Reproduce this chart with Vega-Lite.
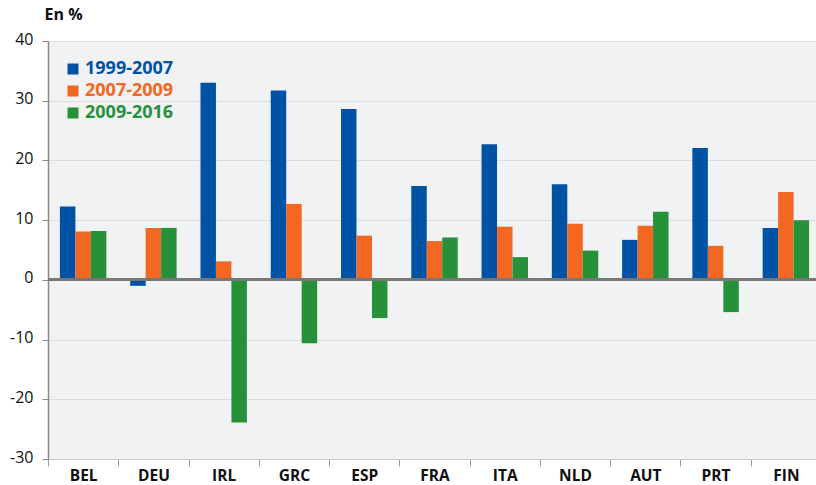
{
  "$schema": "https://vega.github.io/schema/vega-lite/v6.json",
  "width": 773,
  "height": 418,
  "autosize": {"type": "none"},
  "padding": {"left": 48, "top": 41, "right": 0, "bottom": 26},
  "background": "white",
  "config": {
    "view": {"fill": "#f1f2f4", "stroke": null},
    "font": "Open Sans"
  },
  "data": {
    "values": [
      {"country": "BEL", "period": "1999-2007", "value": 12.3},
      {"country": "BEL", "period": "2007-2009", "value": 8.1},
      {"country": "BEL", "period": "2009-2016", "value": 8.2},
      {"country": "DEU", "period": "1999-2007", "value": -1.0},
      {"country": "DEU", "period": "2007-2009", "value": 8.7},
      {"country": "DEU", "period": "2009-2016", "value": 8.7},
      {"country": "IRL", "period": "1999-2007", "value": 33.0},
      {"country": "IRL", "period": "2007-2009", "value": 3.1},
      {"country": "IRL", "period": "2009-2016", "value": -23.9},
      {"country": "GRC", "period": "1999-2007", "value": 31.7},
      {"country": "GRC", "period": "2007-2009", "value": 12.7},
      {"country": "GRC", "period": "2009-2016", "value": -10.6},
      {"country": "ESP", "period": "1999-2007", "value": 28.6},
      {"country": "ESP", "period": "2007-2009", "value": 7.4},
      {"country": "ESP", "period": "2009-2016", "value": -6.4},
      {"country": "FRA", "period": "1999-2007", "value": 15.7},
      {"country": "FRA", "period": "2007-2009", "value": 6.5},
      {"country": "FRA", "period": "2009-2016", "value": 7.1},
      {"country": "ITA", "period": "1999-2007", "value": 22.7},
      {"country": "ITA", "period": "2007-2009", "value": 8.9},
      {"country": "ITA", "period": "2009-2016", "value": 3.8},
      {"country": "NLD", "period": "1999-2007", "value": 16.0},
      {"country": "NLD", "period": "2007-2009", "value": 9.4},
      {"country": "NLD", "period": "2009-2016", "value": 4.9},
      {"country": "AUT", "period": "1999-2007", "value": 6.7},
      {"country": "AUT", "period": "2007-2009", "value": 9.05},
      {"country": "AUT", "period": "2009-2016", "value": 11.4},
      {"country": "PRT", "period": "1999-2007", "value": 22.1},
      {"country": "PRT", "period": "2007-2009", "value": 5.7},
      {"country": "PRT", "period": "2009-2016", "value": -5.4},
      {"country": "FIN", "period": "1999-2007", "value": 8.7},
      {"country": "FIN", "period": "2007-2009", "value": 14.7},
      {"country": "FIN", "period": "2009-2016", "value": 10.0}
    ]
  },
  "encoding": {
    "y": {
      "type": "quantitative",
      "scale": {"domain": [-30, 40], "nice": false, "zero": false},
      "axis": {
        "values": [-30, -20, -10, 0, 10, 20, 30, 40],
        "labelExpr": "toString(datum.value)",
        "title": "En %",
        "titleAngle": 0,
        "titleX": -4,
        "titleY": -22,
        "titleAlign": "left",
        "titleBaseline": "alphabetic",
        "titleFont": "Open Sans",
        "titleFontSize": 16,
        "titleFontWeight": "bold",
        "titleColor": "#111",
        "labelFont": "Open Sans",
        "labelFontSize": 16,
        "labelColor": "#111",
        "labelPadding": 9,
        "labelOffset": -2,
        "tickSize": 6,
        "tickColor": "#888",
        "domainColor": "#888",
        "domainWidth": 1.5,
        "grid": true,
        "gridColor": "#dcdde0",
        "gridWidth": 1
      }
    }
  },
  "layer": [
    {
      "mark": {"type": "bar"},
      "encoding": {
        "x": {
          "field": "country",
          "type": "nominal",
          "sort": null,
          "scale": {"paddingInner": 0, "paddingOuter": 0},
          "axis": {
            "title": null,
            "labelAngle": 0,
            "labelFont": "Open Sans",
            "labelFontSize": 15.5,
            "labelFontWeight": "bold",
            "labelColor": "#111",
            "labelPadding": 2,
            "tickBand": "extent",
            "tickSize": 7,
            "tickColor": "#999",
            "domainColor": "#c8c8c8",
            "grid": false
          }
        },
        "xOffset": {"field": "period", "type": "nominal", "sort": ["1999-2007", "2007-2009", "2009-2016"], "scale": {"paddingInner": 0, "paddingOuter": 0.77}},
        "y": {"field": "value"},
        "color": {
          "field": "period",
          "type": "nominal",
          "scale": {"domain": ["1999-2007", "2007-2009", "2009-2016"], "range": ["#0053a4", "#f26722", "#279139"]},
          "legend": {
            "orient": "none",
            "legendX": 16,
            "legendY": 19,
            "title": null,
            "padding": 0,
            "symbolType": "square",
            "symbolSize": 121,
            "symbolStrokeWidth": 0,
            "labelFont": "Open Sans",
            "labelFontSize": 18,
            "labelFontWeight": "bold",
            "labelOffset": 3,
            "rowPadding": 4,
            "labelColor": {"expr": "scale('color', datum.value)"}
          }
        }
      }
    },
    {
      "mark": {"type": "rule", "color": "#777", "strokeWidth": 2},
      "encoding": {"y": {"datum": 0}}
    }
  ]
}
